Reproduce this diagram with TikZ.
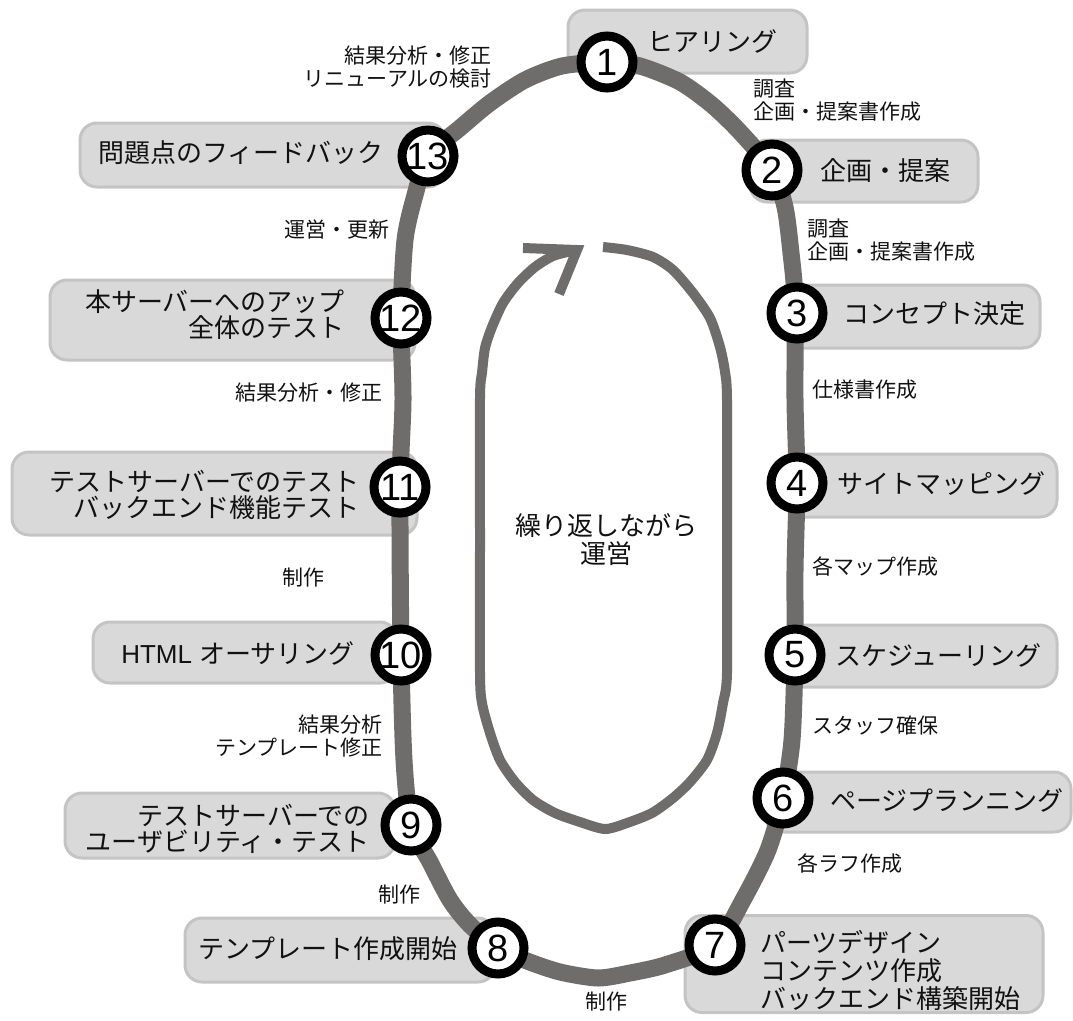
\documentclass[tikz,border=0pt]{standalone}
\usepackage{fontspec}
\setmainfont{Liberation Sans}
\newfontfamily\jp{Noto Sans CJK JP}
\definecolor{trackgray}{HTML}{6E6D6B}
\definecolor{boxfill}{HTML}{D9D9D9}
\definecolor{boxline}{HTML}{C4C4C4}
\definecolor{ink}{HTML}{111111}
\begin{document}
\begin{tikzpicture}[x=1pt,y=-1pt,
  box/.style={draw=boxline, line width=3pt, fill=boxfill, rounded corners=17pt, inner sep=0pt},
  num/.style={circle, draw=black, line width=9pt, fill=white, minimum size=52pt, inner sep=0pt, text=black, font=\fontsize{38}{38}\selectfont},
  boxtext/.style={inner sep=0pt, text=ink, font={\jp\fontsize{26}{26}\selectfont}},
  labeltext/.style={inner sep=0pt, text=ink, font={\jp\fontsize{21}{23}\selectfont}},
  track/.style={draw=trackgray, line width=17pt},
  loopline/.style={draw=trackgray, line width=10pt}
]
\useasboundingbox (0,0) rectangle (1073,1020);

% boxes
\node[box, minimum width=239pt, minimum height=63pt] (b1) at (687.5,41.5) {};
\node[box, minimum width=228pt, minimum height=62pt] (b2) at (864,171) {};
\node[box, minimum width=255pt, minimum height=63pt] (b3) at (912.5,316.5) {};
\node[box, minimum width=272pt, minimum height=63pt] (b4) at (921,485.5) {};
\node[box, minimum width=272pt, minimum height=62pt] (b5) at (921,656) {};
\node[box, minimum width=306pt, minimum height=60pt] (b6) at (918,802) {};
\node[box, minimum width=358pt, minimum height=97pt] (b7) at (864,964) {};
\node[box, minimum width=310pt, minimum height=64pt] (b8) at (340,950) {};
\node[box, minimum width=330pt, minimum height=65pt] (b9) at (230,825.5) {};
\node[box, minimum width=304pt, minimum height=61pt] (b10) at (245,652.5) {};
\node[box, minimum width=405pt, minimum height=83pt] (b11) at (214.5,493.5) {};
\node[box, minimum width=365pt, minimum height=80pt] (b12) at (232.5,320) {};
\node[box, minimum width=365pt, minimum height=64pt] (b13) at (262.5,155) {};

% station coordinates
\coordinate (c1) at (607,62);
\coordinate (c2) at (772,170);
\coordinate (c3) at (797,313);
\coordinate (c4) at (797,483);
\coordinate (c5) at (795,655);
\coordinate (c6) at (783,798);
\coordinate (c7) at (715,945);
\coordinate (c8) at (498,948);
\coordinate (c9) at (411,825);
\coordinate (c10) at (401,655);
\coordinate (c11) at (400,487);
\coordinate (c12) at (401,318);
\coordinate (c13) at (428,156);

% outer track
\draw[track] plot[smooth cycle, tension=0.45] coordinates {
 (c1) (640,66) (680,82) (712,105) (740,132) (c2) (785,207) (791,253) (795,300)
 (795,400) (c4) (795,570) (c5) (792,740) (c6) (768,850) (743,900) (c7)
 (665,965) (630,973) (598,978) (560,972) (527,961) (c8) (470,925) (450,900)
 (430,862) (c9) (404,760) (c10) (c11) (403,400) (c12) (405,240) (415,195)
 (c13) (460,128) (490,103) (525,80) (562,66)};

% inner loop
\coordinate (tip) at (577,250);
\coordinate (armA) at (523,248);
\coordinate (armB) at (559,294);
\draw[loopline] plot[smooth, tension=0.45] coordinates {
 (603,247) (627,250) (653,257) (673,270) (693,293) (710,318) (720,347) (725,372)
 (727,400) (727,540) (727,673) (723,703) (717,733) (707,760) (690,782) (673,798)
 (652,813) (627,823) (605,829) (580,822) (555,813) (533,800) (515,782) (500,760)
 (490,733) (482,703) (480,673) (480,540) (480,398) (482,373) (485,348) (492,327)
 (503,303) (518,283) (535,267) (553,256) (572,251)};
\draw[loopline, line join=miter] (armA) -- (tip) -- (armB);

% stations
\node[num] (n1) at (c1) {1};
\node[num] (n2) at (c2) {2};
\node[num] (n3) at (c3) {3};
\node[num] (n4) at (c4) {4};
\node[num] (n5) at (c5) {5};
\node[num] (n6) at (c6) {6};
\node[num] (n7) at (c7) {7};
\node[num] (n8) at (c8) {8};
\node[num] (n9) at (c9) {9};
\node[num] (n10) at (c10) {10};
\node[num] (n11) at (c11) {11};
\node[num] (n12) at (c12) {12};
\node[num] (n13) at (c13) {13};

% box texts
\node[boxtext, anchor=west] (t1) at (647,41) {ヒアリング};
\node[boxtext, anchor=west] (t2) at (820,171) {企画・提案};
\node[boxtext, anchor=west] (t3) at (843,314) {コンセプト決定};
\node[boxtext, anchor=west] (t4) at (837,484) {サイトマッピング};
\node[boxtext, anchor=west] (t5) at (835,655) {スケジューリング};
\node[boxtext, anchor=west] (t6) at (830,800) {ページプランニング};
\node[boxtext, anchor=west, align=left, font={\jp\fontsize{26}{28}\selectfont}] (t7) at (760,970) {パーツデザイン\\コンテンツ作成\\バックエンド構築開始};
\node[boxtext, anchor=east] (t8) at (458,949) {テンプレート作成開始};
\node[boxtext, anchor=east, align=right] (t9) at (370,829) {テストサーバーでの\\ユーザビリティ・テスト};
\node[boxtext, anchor=east, font={\fontsize{26}{26}\selectfont}] (t10) at (355,653) {HTML {\jp オーサリング}};
\node[boxtext, anchor=east, align=right] (t11) at (360,495) {テストサーバーでのテスト\\バックエンド機能テスト};
\node[boxtext, anchor=east, align=right] (t12) at (345,315) {本サーバーへのアップ\\全体のテスト};
\node[boxtext, anchor=east] (t13) at (384,153) {問題点のフィードバック};

% step labels
\node[labeltext, anchor=east, align=right] (l1) at (492,67) {結果分析・修正\\リニューアルの検討};
\node[labeltext, anchor=west, align=left] (l2) at (753,100) {調査\\企画・提案書作成};
\node[labeltext, anchor=west, align=left] (l3) at (807,240) {調査\\企画・提案書作成};
\node[labeltext, anchor=west] (l4) at (812,390) {仕様書作成};
\node[labeltext, anchor=west] (l5) at (812,567) {各マップ作成};
\node[labeltext, anchor=west] (l6) at (812,725) {スタッフ確保};
\node[labeltext, anchor=west] (l7) at (797,863) {各ラフ作成};
\node[labeltext, anchor=east] (l8) at (390,230) {運営・更新};
\node[labeltext, anchor=east] (l9) at (383,393) {結果分析・修正};
\node[labeltext] (l10) at (303,578) {制作};
\node[labeltext, anchor=east, align=right] (l11) at (383,736) {結果分析\\テンプレート修正};
\node[labeltext] (l12) at (399,895) {制作};
\node[labeltext] (l13) at (606,1002) {制作};

% centre text
\node[boxtext, align=center, font={\jp\fontsize{26}{28}\selectfont}] (centre) at (606,540) {繰り返しながら\\運営};
\end{tikzpicture}
\end{document}
